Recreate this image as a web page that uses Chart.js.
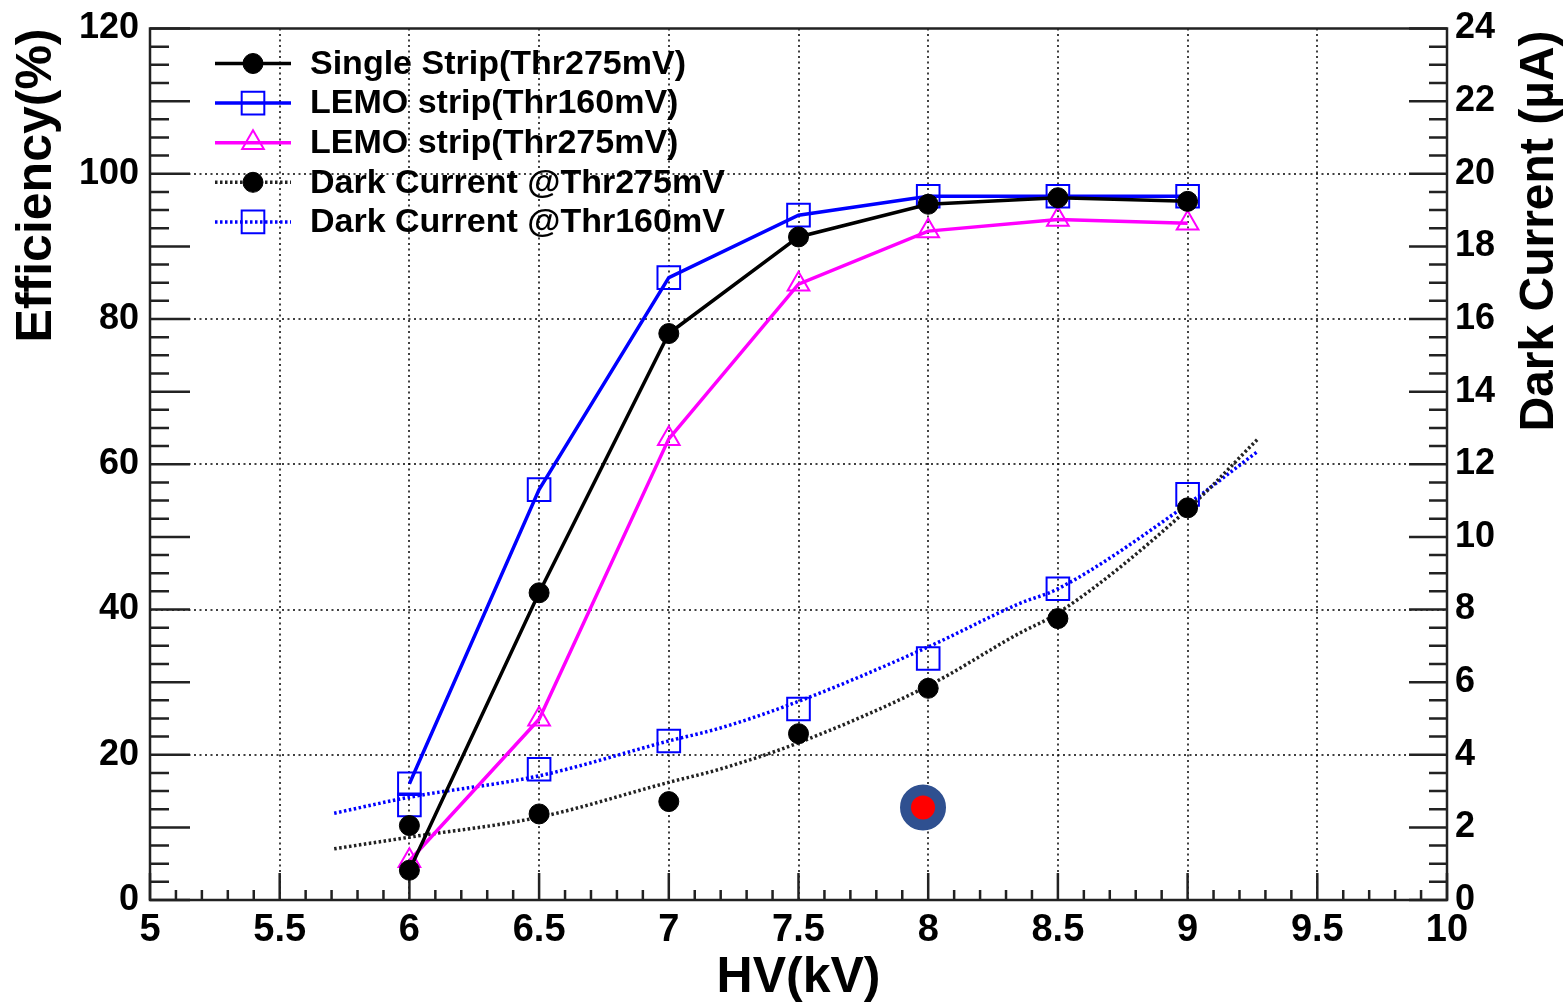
<!DOCTYPE html>
<html>
<head>
<meta charset="utf-8">
<script src="https://cdn.jsdelivr.net/npm/chart.js@4.4.1/dist/chart.umd.min.js"></script>
<style>
  html, body { margin: 0; padding: 0; background: #fff; }
  #wrap { width: 1565px; height: 1003px; position: relative; }
</style>
</head>
<body>
<div id="wrap"><canvas id="hv-scan-chart"></canvas></div>
<script>
// HV scan points (kV)
const hv = [6, 6.5, 7, 7.5, 8, 8.5, 9];
// efficiency (%)
const effSingle275 = [4.1, 42.3, 78.0, 91.3, 95.8, 96.7, 96.2];
const effLemo160   = [16.0, 56.5, 85.7, 94.3, 96.9, 96.9, 96.9];
const effLemo275   = [5.4, 24.9, 63.5, 84.8, 92.1, 93.7, 93.2];
// dark current (uA)
const dark275 = [2.05, 2.37, 2.71, 4.58, 5.83, 7.75, 10.80];
const dark160 = [2.62, 3.60, 4.38, 5.26, 6.65, 8.57, 11.17];
// fitted curves (uA)
const fitHv  = [5.71, 6.0, 6.5, 7.0, 7.2, 7.5, 8.0, 8.35, 8.5, 9.0, 9.27];
const fit275 = [1.41, 1.73, 2.28, 3.24, 3.61, 4.33, 5.90, 7.34, 7.90, 10.76, 12.69];
const fit160 = [2.39, 2.83, 3.42, 4.38, 4.74, 5.47, 6.97, 8.16, 8.57, 10.90, 12.35];
// highlighted point
const markHv = [7.98];
const markDc = [2.55];
// tick labels
const xTicks   = [5, 5.5, 6, 6.5, 7, 7.5, 8, 8.5, 9, 9.5, 10];
const effTicks = [0, 20, 40, 60, 80, 100, 120];
const dcTicks  = [0, 2, 4, 6, 8, 10, 12, 14, 16, 18, 20, 22, 24];

const FONT = "'Liberation Sans', Arial, Helvetica, sans-serif";
Chart.defaults.font.family = FONT;
Chart.defaults.color = '#000';

const xy = (xs, ys) => xs.map((x, i) => ({x: x, y: ys[i]}));
const clear = 'rgba(0,0,0,0)';
const gridCol = 'rgba(0,0,0,0.75)';

// legend rows -> dataset index
const legendRows = [1, 2, 3, 4, 5];
const legendLineStyle = {4: 6, 5: 7}; // dark current rows use the fit line style

// ROOT style frame, inward ticks, legend, right title
const rootStyle = {
  id: 'rootStyle',
  beforeDatasetsDraw(chart) {
    const {ctx, chartArea: a, scales} = chart;
    ctx.save();
    ctx.strokeStyle = '#222';
    ctx.lineWidth = 2.5;
    ctx.beginPath();
    for (let i = 0; i <= 48; i++) {
      const y = scales.y.getPixelForValue(i * 2.5);
      ctx.moveTo(a.left, y); ctx.lineTo(a.left + (i % 4 === 0 ? 40 : 19), y);
    }
    for (let i = 0; i <= 48; i++) {
      const y = scales.y1.getPixelForValue(i * 0.5);
      ctx.moveTo(a.right, y); ctx.lineTo(a.right - (i % 4 === 0 ? 38 : 18), y);
    }
    for (let i = 0; i <= 50; i++) {
      const x = scales.x.getPixelForValue(5 + i * 0.1);
      ctx.moveTo(x, a.bottom); ctx.lineTo(x, a.bottom - (i % 5 === 0 ? 27 : 10));
    }
    ctx.stroke();
    ctx.strokeRect(a.left, a.top, a.right - a.left, a.bottom - a.top);
    ctx.restore();
  },
  afterDraw(chart) {
    const {ctx, chartArea: a} = chart;
    const ds = chart.data.datasets;
    ctx.save();
    // legend
    legendRows.forEach((idx, r) => {
      const d = ds[idx];
      const y = 63.5 + r * 39.6;
      const ls = ds[legendLineStyle[idx] !== undefined ? legendLineStyle[idx] : idx];
      ctx.save();
      ctx.strokeStyle = ls.borderColor;
      ctx.lineWidth = ls.borderWidth;
      ctx.setLineDash(ls.borderDash || []);
      ctx.beginPath();
      ctx.moveTo(215, y); ctx.lineTo(291, y);
      ctx.stroke();
      ctx.setLineDash([]);
      ctx.fillStyle = d.pointBackgroundColor;
      ctx.strokeStyle = d.pointBorderColor;
      ctx.lineWidth = d.pointBorderWidth;
      Chart.helpers.drawPoint(ctx, {pointStyle: d.pointStyle, radius: d.pointRadius, rotation: 0, borderWidth: d.pointBorderWidth}, 253, y);
      ctx.restore();
      ctx.fillStyle = '#000';
      ctx.font = 'bold 34px ' + FONT;
      ctx.textAlign = 'left';
      ctx.textBaseline = 'middle';
      ctx.fillText(d.label, 310, y + 1);
    });
    // right axis title
    ctx.translate(1553, a.top + 2);
    ctx.rotate(-Math.PI / 2);
    ctx.font = 'bold 48px ' + FONT;
    ctx.textAlign = 'right';
    ctx.textBaseline = 'alphabetic';
    ctx.fillStyle = '#000';
    ctx.fillText('Dark Current (\u00B5A)', 0, 0);
    ctx.restore();
  }
};

const noPad = s => { s.paddingTop = 0; s.paddingBottom = 0; };

new Chart(document.getElementById('hv-scan-chart').getContext('2d'), {
  type: 'line',
  data: {
    datasets: [
      {label: 'highlight', data: xy(markHv, markDc), yAxisID: 'y1', showLine: false, order: -1,
        pointStyle: 'circle', pointRadius: 17.5, pointBackgroundColor: '#ff0000', pointBorderColor: '#2f5090', pointBorderWidth: 11},
      {label: 'Single Strip(Thr275mV)', data: xy(hv, effSingle275), yAxisID: 'y',
        borderColor: '#000', borderWidth: 3.5, pointStyle: 'circle', pointRadius: 10,
        pointBackgroundColor: '#000', pointBorderColor: '#000', pointBorderWidth: 1},
      {label: 'LEMO strip(Thr160mV)', data: xy(hv, effLemo160), yAxisID: 'y',
        borderColor: '#0000ff', borderWidth: 3.5, pointStyle: 'rect', pointRadius: 16,
        pointBackgroundColor: clear, pointBorderColor: '#0000ff', pointBorderWidth: 2},
      {label: 'LEMO strip(Thr275mV)', data: xy(hv, effLemo275), yAxisID: 'y',
        borderColor: '#ff00ff', borderWidth: 3.5, pointStyle: 'triangle', pointRadius: 12.5,
        pointBackgroundColor: clear, pointBorderColor: '#ff00ff', pointBorderWidth: 2},
      {label: 'Dark Current @Thr275mV', data: xy(hv, dark275), yAxisID: 'y1', showLine: false,
        borderColor: '#000', pointStyle: 'circle', pointRadius: 10,
        pointBackgroundColor: '#000', pointBorderColor: '#000', pointBorderWidth: 1},
      {label: 'Dark Current @Thr160mV', data: xy(hv, dark160), yAxisID: 'y1', showLine: false,
        borderColor: '#0000ff', pointStyle: 'rect', pointRadius: 16,
        pointBackgroundColor: clear, pointBorderColor: '#0000ff', pointBorderWidth: 2},
      {label: 'fit275', data: xy(fitHv, fit275), yAxisID: 'y1', borderColor: '#222', borderWidth: 3.5,
        borderDash: [2.5, 2.5], pointRadius: 0, cubicInterpolationMode: 'monotone'},
      {label: 'fit160', data: xy(fitHv, fit160), yAxisID: 'y1', borderColor: '#0000ff', borderWidth: 3.5,
        borderDash: [2.5, 2.5], pointRadius: 0, cubicInterpolationMode: 'monotone'}
    ]
  },
  options: {
    responsive: true,
    maintainAspectRatio: false,
    animation: false,
    events: [],
    layout: {padding: {top: 22, left: 0, right: 0, bottom: 0}},
    plugins: {legend: {display: false}, tooltip: {enabled: false}},
    scales: {
      x: {
        type: 'linear', min: 5, max: 10,
        afterBuildTicks: s => { s.ticks = xTicks.map(v => ({value: v})); },
        afterFit: s => { s.height = 103; },
        ticks: {font: {size: 38, weight: 'bold'}, padding: 8, maxRotation: 0, autoSkip: false,
          callback: v => String(v)},
        grid: {drawTicks: false, lineWidth: 2,
          color: c => (c.tick && (c.tick.value === 5 || c.tick.value === 10)) ? clear : gridCol},
        border: {display: false, dash: [2, 3.5]},
        title: {display: true, text: 'HV(kV)', font: {size: 50, weight: 'bold', lineHeight: 1}, padding: {top: 0, bottom: 0}}
      },
      y: {
        type: 'linear', position: 'left', min: 0, max: 120,
        afterBuildTicks: s => { s.ticks = effTicks.map(v => ({value: v})); },
        afterFit: s => { s.width = 150; noPad(s); },
        ticks: {font: {size: 36, weight: 'bold'}, padding: 11, callback: v => String(v)},
        grid: {drawTicks: false, lineWidth: 2,
          color: c => (c.tick && (c.tick.value === 0 || c.tick.value === 120)) ? clear : gridCol},
        border: {display: false, dash: [2, 3.5]},
        title: {display: true, text: 'Efficiency(%)', align: 'end', font: {size: 50, weight: 'bold', lineHeight: 1}, padding: {top: 12, bottom: 0}}
      },
      y1: {
        type: 'linear', position: 'right', min: 0, max: 24,
        afterBuildTicks: s => { s.ticks = dcTicks.map(v => ({value: v})); },
        afterFit: s => { s.width = 118; noPad(s); },
        ticks: {font: {size: 36, weight: 'bold'}, padding: 8, callback: v => String(v)},
        grid: {drawTicks: false, drawOnChartArea: false},
        border: {display: false}
      }
    }
  },
  plugins: [rootStyle]
});
</script>
</body>
</html>
